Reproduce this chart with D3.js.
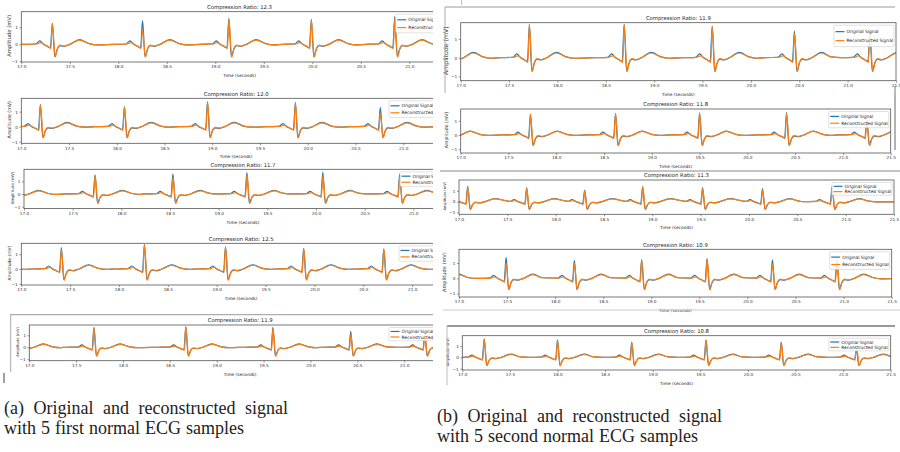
<!DOCTYPE html>
<html>
<head>
<meta charset="utf-8">
<script src="https://cdn.jsdelivr.net/npm/d3@7"></script>
<style>
body { margin: 0; background: #fff; }
svg { display: block; }
</style>
</head>
<body>
<svg id="fig" width="900" height="452"></svg>
<script>
// compression ratio shown in each panel title
var ratiosA = ["12.3", "12.0", "11.7", "12.5", "11.9"];
var ratiosB = ["11.9", "11.8", "11.3", "10.9", "10.8"];
var xTicks = [17.0, 17.5, 18.0, 18.5, 19.0, 19.5, 20.0, 20.5, 21.0, 21.5];
var yTicks = [-1, 0, 1];
var legendLabels = ["Original Signal", "Reconstructed Signal"];

// beats: [R peak time (s), original R (mV), reconstructed R (mV)]
var beatsA1 = [[17.32, 1.24, 1.20], [18.25, 1.39, 0.88], [19.14, 1.53, 1.45], [19.99, 1.47, 1.42], [20.85, 1.63, 1.50], [21.72, 1.5, 1.45]];
var beatsA2 = [[17.20, 1.49, 1.45], [18.08, 1.33, 1.30], [18.95, 1.67, 1.60], [19.87, 1.62, 1.55], [20.76, 1.29, 0.90], [21.65, 1.4, 1.4]];
var beatsA3 = [[16.87, 1.5, 1.5], [17.73, 1.50, 1.45], [18.53, 1.58, 1.30], [19.29, 1.68, 1.50], [20.07, 1.71, 1.45], [20.86, 1.58, 1.30]];
var beatsA4 = [[16.58, 1.4, 1.4], [17.41, 1.43, 1.30], [18.26, 1.65, 1.62], [19.09, 1.50, 1.45], [19.89, 1.39, 1.35], [20.71, 1.33, 1.35]];
var beatsA5 = [[16.87, 1.6, 1.6], [17.69, 1.67, 1.60], [18.67, 1.72, 1.70], [19.60, 1.67, 1.60], [20.43, 1.33, 1.05], [21.22, 1.03, 1.15]];
var beatsB1 = [[16.85, 1.7, 1.7], [17.71, 1.78, 1.75], [18.69, 1.78, 1.75], [19.60, 1.69, 1.65], [20.45, 1.42, 1.30], [21.23, 1.33, 1.45]];
var beatsB2 = [[16.82, 1.5, 1.5], [17.73, 1.47, 1.45], [18.62, 1.51, 1.50], [19.50, 1.56, 1.50], [20.41, 1.58, 1.50], [21.25, 1.16, 1.00]];
var beatsB3 = [[17.09, 1.42, 1.35], [17.70, 1.30, 1.20], [18.30, 1.06, 1.00], [18.90, 1.36, 1.40], [19.52, 1.30, 1.20], [20.14, 1.20, 1.10], [20.86, 1.42, 1.35]];
var beatsB4 = [[16.72, 1.3, 1.3], [17.49, 1.38, 1.00], [18.20, 1.18, 1.00], [18.90, 1.22, 1.20], [19.58, 1.29, 1.25], [20.26, 1.22, 0.95], [20.93, 1.16, 1.30]];
var beatsB5 = [[17.23, 1.63, 1.60], [18.00, 1.54, 1.40], [18.78, 1.34, 1.30], [19.56, 1.54, 1.50], [20.35, 1.34, 1.30], [21.14, 0.70, 1.00]];

// one heartbeat, offset from the R peak (s) and amplitude (mV); "R" takes the beat's peak
var origShape = [[-0.30, 0], [-0.17, 0.02], [-0.13, 0.2], [-0.09, 0.0], [-0.05, -0.12], [-0.02, -0.2], [0, "R"],
    [0.025, -0.72], [0.05, -0.3], [0.08, -0.08], [0.12, -0.12], [0.18, 0], [0.28, 0.28], [0.38, 0.04], [0.46, -0.03]];
var recShape = [[-0.30, 0], [-0.16, 0.02], [-0.12, 0.1], [-0.08, -0.02], [-0.04, -0.15], [-0.015, -0.25], [0, "R"],
    [0.03, -0.75], [0.055, -0.2], [0.08, -0.05], [0.12, -0.1], [0.18, 0], [0.28, 0.25], [0.38, 0.04], [0.46, -0.03]];

// left column panels are cut off at x = 433 in the source figure
var panels = [
    {beats: beatsA1, ratio: ratiosA[0], left: 21.3, right: 457.8, top: 11.7, bottom: 62, yMin: -1.04, yMax: 1.92, cut: 433},
    {beats: beatsA2, ratio: ratiosA[1], left: 21.3, right: 451, top: 98.3, bottom: 143.3, yMin: -1.11, yMax: 1.89, cut: 433},
    {beats: beatsA3, ratio: ratiosA[2], left: 24, right: 462, top: 169.3, bottom: 208.6, yMin: -1.15, yMax: 1.94, cut: 433},
    {beats: beatsA4, ratio: ratiosA[3], left: 21.3, right: 461, top: 243.3, bottom: 285, yMin: -1.07, yMax: 1.72, cut: 433},
    {beats: beatsA5, ratio: ratiosA[4], left: 29.3, right: 451, top: 325, bottom: 360.7, yMin: -1.12, yMax: 1.86, cut: 433},
    {beats: beatsB1, ratio: ratiosB[0], left: 460.7, right: 896, top: 22.7, bottom: 80.7, yMin: -1.23, yMax: 1.87, cut: null},
    {beats: beatsB2, ratio: ratiosB[1], left: 460.7, right: 890.7, top: 109, bottom: 153, yMin: -1.27, yMax: 1.83, cut: null},
    {beats: beatsB3, ratio: ratiosB[2], left: 459, right: 894, top: 180, bottom: 214.3, yMin: -1.17, yMax: 2.0, cut: null},
    {beats: beatsB4, ratio: ratiosB[3], left: 459, right: 891.7, top: 249.3, bottom: 297, yMin: -1.22, yMax: 1.9, cut: null},
    {beats: beatsB5, ratio: ratiosB[4], left: 462.3, right: 890.7, top: 335.7, bottom: 370, yMin: -1.12, yMax: 1.91, cut: null}
];

var BLUE = "#1f77b4", ORANGE = "#ff7f0e";
var FONT = "DejaVu Sans, sans-serif";

var svg = d3.select("#fig");
var defs = svg.append("defs");
defs.append("clipPath").attr("id", "clipA")
    .append("rect").attr("x", 0).attr("y", 0).attr("width", 433).attr("height", 400);

// place the beat shape at each R peak
function trace(beats, shape, col) {
    var pts = [[16.4, 0]];
    beats.forEach(function (b, i) {
        var gapPrev = i ? b[0] - beats[i - 1][0] : 1;
        var gapNext = i < beats.length - 1 ? beats[i + 1][0] - b[0] : 1;
        shape.forEach(function (s) {
            if (s[0] < -0.42 * gapPrev || s[0] > 0.58 * gapNext) {
                return;
            }
            pts.push([b[0] + s[0], s[1] === "R" ? b[col] : s[1]]);
        });
    });
    pts.push([22.2, 0]);
    return pts;
}

panels.forEach(function (p, idx) {
    var outer = svg.append("g");
    if (p.cut) {
        outer.attr("clip-path", "url(#clipA)");
    }
    var h = p.bottom - p.top;
    var x = d3.scaleLinear().domain([17.0, 21.5]).range([p.left, p.right]);
    var y = d3.scaleLinear().domain([p.yMin, p.yMax]).range([p.bottom, p.top]);
    var shownTicks = xTicks.filter(function (t) { return !p.cut || x(t) < p.cut - 4; });

    var cid = "plot" + idx;
    defs.append("clipPath").attr("id", cid)
        .append("rect")
        .attr("x", p.left).attr("y", p.top)
        .attr("width", p.right - p.left).attr("height", h);

    var line = d3.line()
        .x(function (d) { return x(d[0]); })
        .y(function (d) { return y(d[1]); })
        .curve(d3.curveMonotoneX);

    var plot = outer.append("g").attr("clip-path", "url(#" + cid + ")");
    plot.append("path")
        .attr("d", line(trace(p.beats, origShape, 1)))
        .attr("fill", "none").attr("stroke", BLUE).attr("stroke-width", 1.2);
    plot.append("path")
        .attr("d", line(trace(p.beats, recShape, 2)))
        .attr("fill", "none").attr("stroke", ORANGE).attr("stroke-width", 1.2);

    // axes
    var xAxis = outer.append("g")
        .attr("transform", "translate(0," + p.bottom + ")")
        .call(d3.axisBottom(x).tickValues(shownTicks).tickSize(2).tickPadding(1.5).tickFormat(d3.format(".1f")));
    var yAxis = outer.append("g")
        .attr("transform", "translate(" + p.left + ",0)")
        .call(d3.axisLeft(y).tickValues(yTicks).tickSize(2).tickPadding(1.5).tickFormat(function (d) { return d < 0 ? "\u2212" + (-d) : d; }));
    [xAxis, yAxis].forEach(function (ax) {
        ax.select(".domain").remove();
        ax.selectAll("line").attr("stroke", "#555").attr("stroke-width", 0.6);
        ax.selectAll("text").attr("font-family", FONT).attr("font-size", 4.2).attr("fill", "#333");
    });

    outer.append("rect")
        .attr("x", p.left).attr("y", p.top)
        .attr("width", p.right - p.left).attr("height", h)
        .attr("fill", "none").attr("stroke", "#555").attr("stroke-width", 0.8);

    outer.append("text")
        .attr("x", (p.left + p.right) / 2).attr("y", p.top - 2.8)
        .attr("text-anchor", "middle")
        .attr("font-family", FONT).attr("font-size", 5.3).attr("fill", "#222")
        .text("Compression Ratio: " + p.ratio);

    outer.append("text")
        .attr("x", (p.left + p.right) / 2).attr("y", p.bottom + 15)
        .attr("text-anchor", "middle")
        .attr("font-family", FONT).attr("font-size", 4.3).attr("fill", "#222")
        .text("Time (seconds)");

    var yl = p.cut ? p.left - 10 : p.left - 13;
    outer.append("text")
        .attr("transform", "translate(" + yl + "," + ((p.top + p.bottom) / 2 - 1) + ") rotate(-90)")
        .attr("text-anchor", "middle")
        .attr("font-family", FONT).attr("font-size", Math.min(6.2, 0.85 * h / 8)).attr("fill", "#333")
        .text("Amplitude (mV)");

    // legend, upper right; in the cut panels only the part left of the cut is shown
    var lh = 0.37 * h, lw = 60;
    var lx = p.right - 2 - lw, ly = p.top + 2.5;
    var leg = outer.append("g");
    leg.append("rect")
        .attr("x", lx).attr("y", ly).attr("width", lw).attr("height", lh)
        .attr("rx", 1).attr("fill", "#fff").attr("fill-opacity", 0.85)
        .attr("stroke", "#ccc").attr("stroke-width", 0.6);
    var labels = p.cut ? ["Original Sig", "Reconstructed"] : legendLabels;
    [BLUE, ORANGE].forEach(function (c, i) {
        var ry = ly + lh * (i === 0 ? 0.3 : 0.72);
        leg.append("line")
            .attr("x1", lx + 1.5).attr("x2", lx + 10.5).attr("y1", ry).attr("y2", ry)
            .attr("stroke", c).attr("stroke-width", 1.2);
        leg.append("text")
            .attr("x", lx + 12.5).attr("y", ry + 1.5)
            .attr("font-family", FONT).attr("font-size", 4.4).attr("fill", "#222")
            .text(p.cut ? legendLabels[i] : labels[i]);
    });
});

// frames left from the cropped screenshots
var frames = [
    [10, 314.7, 433, 314.7, "#999"], [10.7, 314.7, 10.7, 372, "#aaa"], [4, 373, 4, 383, "#444"],
    [445, 7, 895, 7, "#999"], [445, 7, 445, 93, "#aaa"], [461.7, 0, 461.7, 5, "#bbb"], [895, 86, 895, 95, "#777"],
    [895, 95, 895, 150, "#666"],
    [440, 171, 900, 171, "#888"],
    [443, 310, 900, 310, "#ccc"],
    [447, 326, 895, 326, "#333"], [447, 326, 447, 385, "#bbb"]
];
svg.append("g").selectAll("line")
    .data(frames)
    .enter()
    .append("line")
    .attr("x1", function (d) { return d[0]; })
    .attr("y1", function (d) { return d[1]; })
    .attr("x2", function (d) { return d[2]; })
    .attr("y2", function (d) { return d[3]; })
    .attr("stroke", function (d) { return d[4]; })
    .attr("stroke-width", 1);

// sub-figure captions
var captions = [
    {x: 4, y: 414, text: "(a) Original and reconstructed signal", ws: 5},
    {x: 4, y: 434, text: "with 5 first normal ECG samples", ws: 0.5},
    {x: 437, y: 422, text: "(b) Original and reconstructed signal", ws: 5},
    {x: 437, y: 442, text: "with 5 second normal ECG samples", ws: 0.5}
];
svg.append("g").selectAll("text")
    .data(captions)
    .enter()
    .append("text")
    .attr("x", function (d) { return d.x; })
    .attr("y", function (d) { return d.y; })
    .attr("word-spacing", function (d) { return d.ws; })
    .attr("font-family", "Liberation Serif, Times New Roman, serif")
    .attr("font-size", 18)
    .attr("fill", "#222")
    .text(function (d) { return d.text; });
</script>
</body>
</html>
